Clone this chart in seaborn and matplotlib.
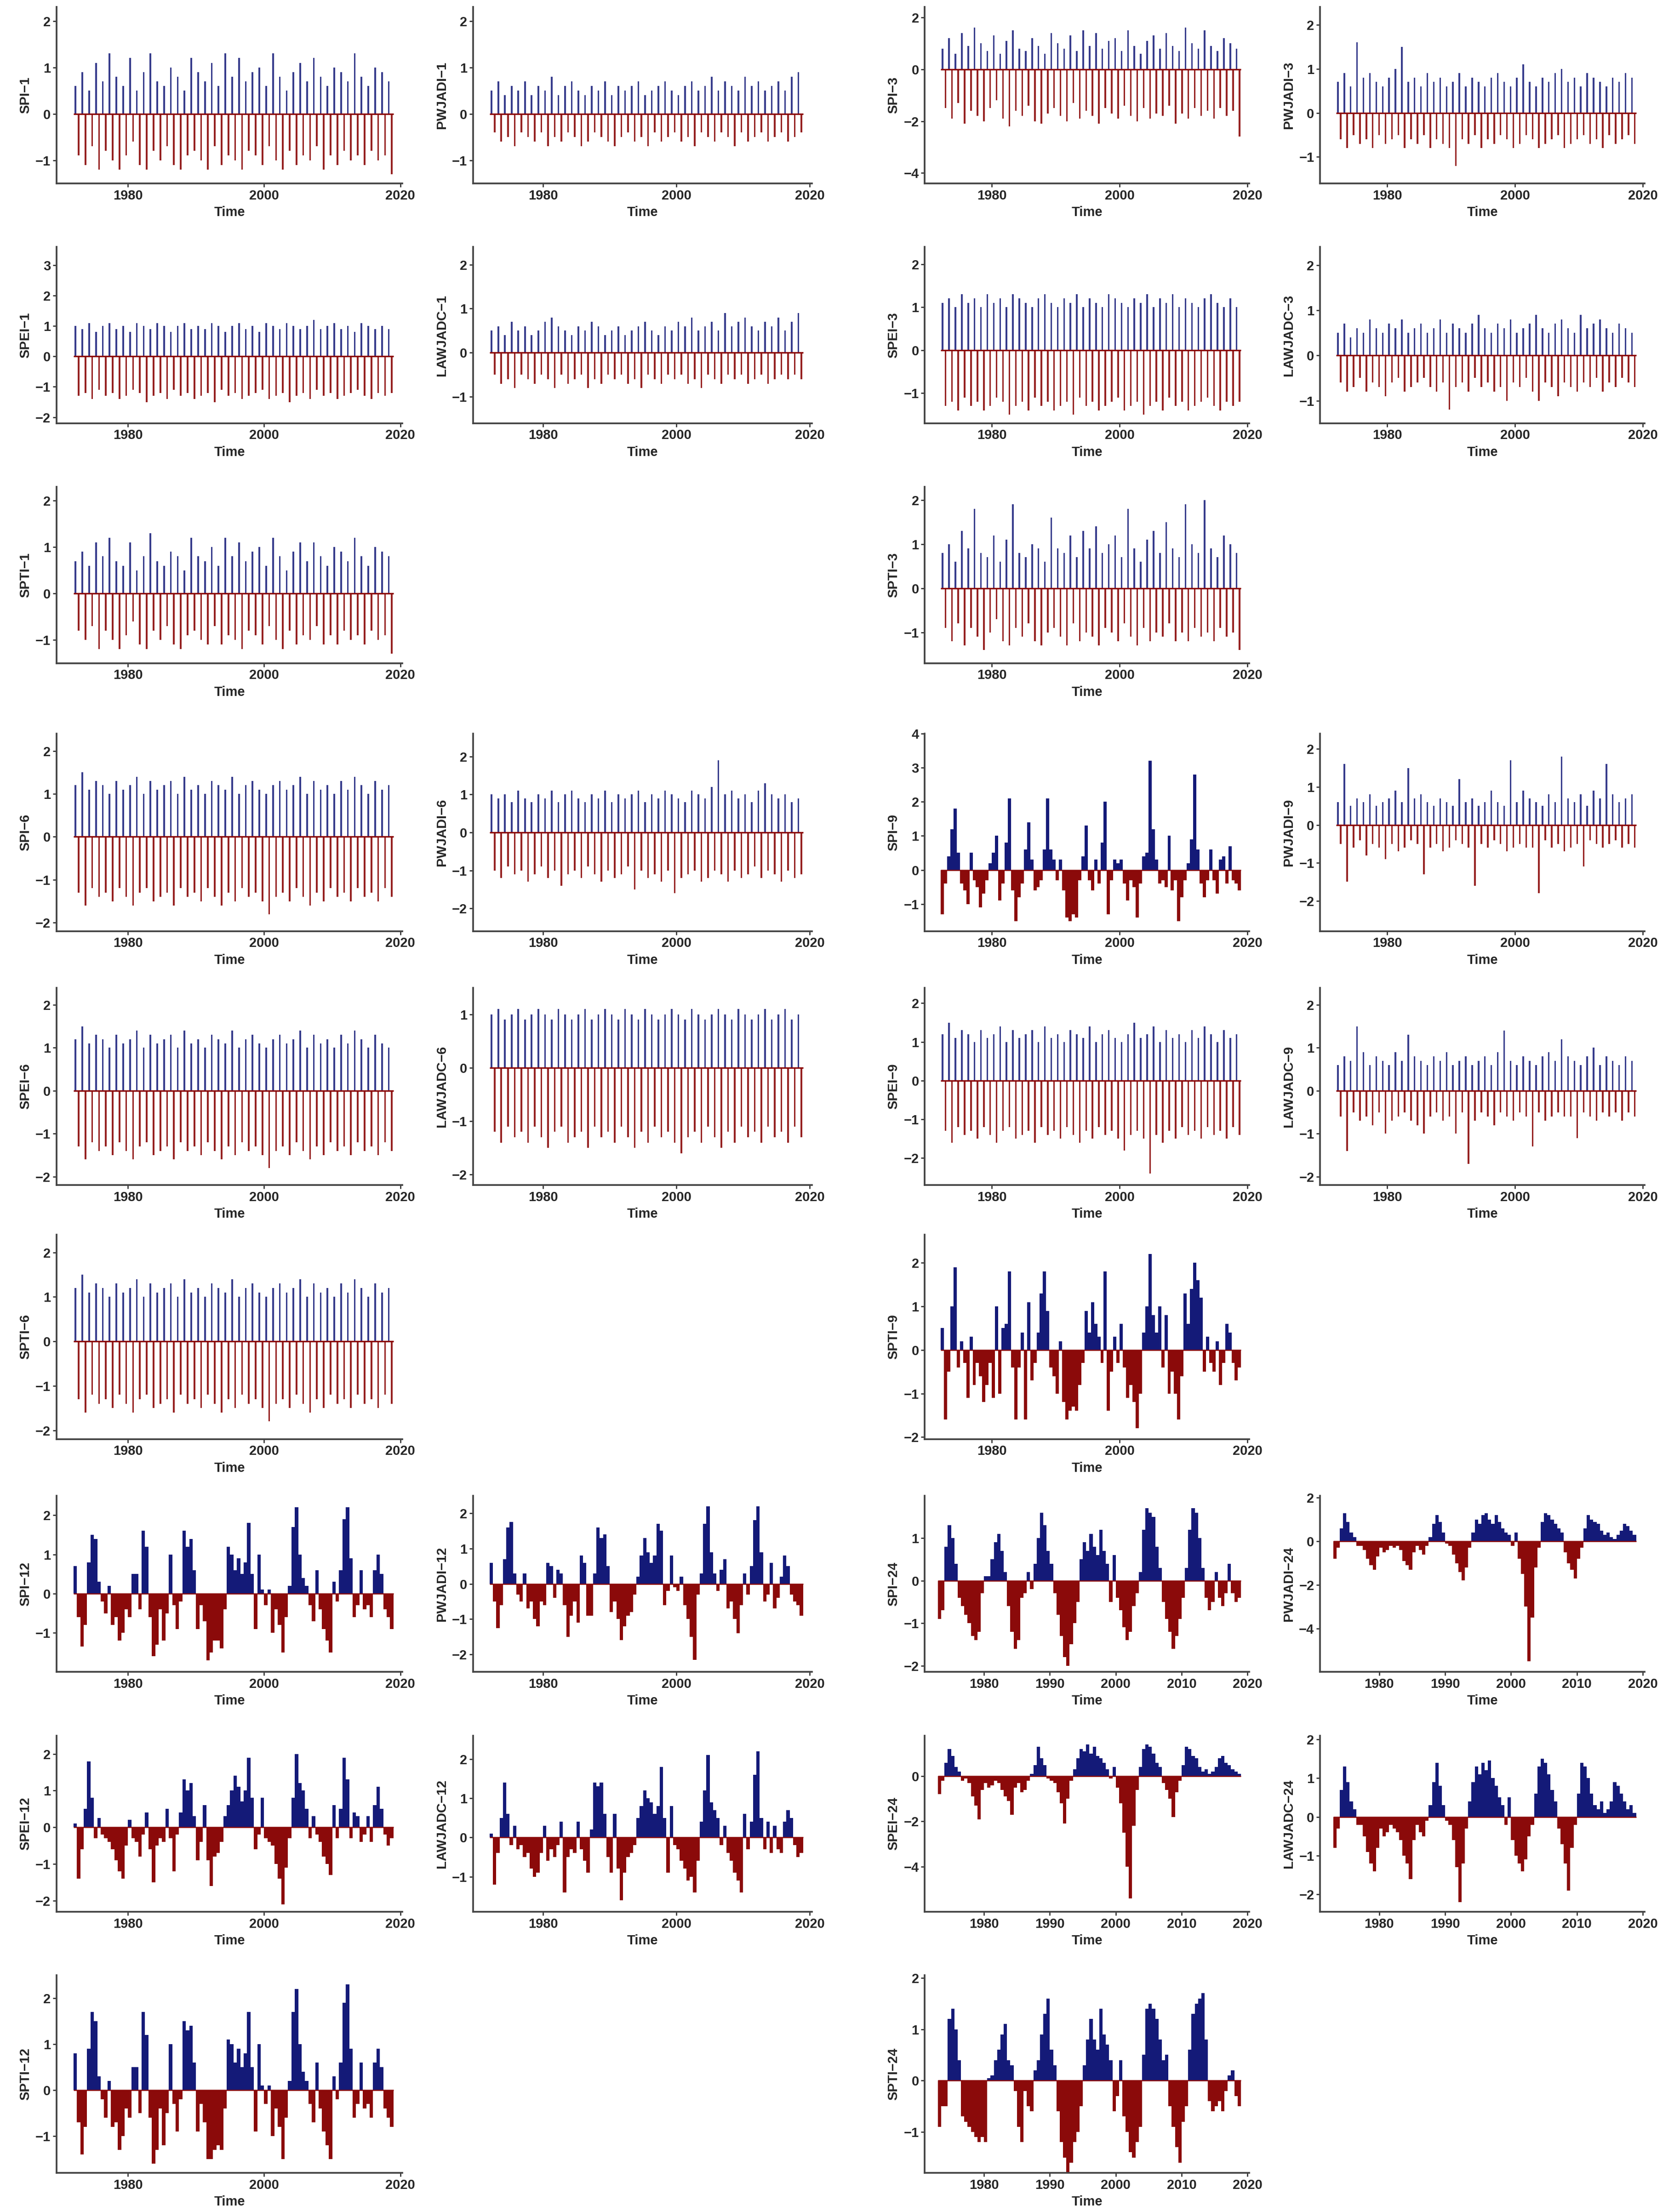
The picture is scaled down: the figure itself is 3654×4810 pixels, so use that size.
import matplotlib
matplotlib.use("Agg")
import matplotlib.pyplot as plt
import seaborn as sns
import numpy as np

sns.set_theme(style="ticks")
plt.rcParams['font.family'] = ['Liberation Sans', 'DejaVu Sans']

YEARS = list(range(1972, 2019))              # annual wet / dry peaks for short scales
HALF = [1972 + 0.5 * i for i in range(94)]   # half-year values, 1972-2018
HALF24 = [1973 + 0.5 * i for i in range(92)] # half-year values, 1973-2018

# ---------- short time scales: yearly wet peak and dry trough ----------
SPI1_WET = [0.6,0.9,0.5,1.1,0.7,1.3,0.8,0.6,1.2,0.5,0.9,1.3,0.7,0.6,1.0,0.8,0.5,1.2,0.9,0.7,1.1,0.6,1.3,0.8,1.2,0.7,0.9,1.0,0.6,1.3,0.8,0.5,0.9,1.1,0.7,1.2,0.8,0.6,1.0,0.9,0.7,1.3,0.8,0.6,1.0,0.9,0.7]
SPI1_DRY = [-0.9,-1.1,-0.7,-1.2,-0.8,-1.0,-1.2,-0.9,-0.6,-1.1,-1.2,-0.8,-1.0,-0.7,-1.1,-1.2,-0.9,-0.8,-1.0,-1.2,-0.7,-1.1,-0.9,-1.0,-1.2,-0.8,-0.9,-1.1,-0.7,-1.0,-1.2,-0.8,-1.1,-0.9,-1.0,-0.7,-1.2,-0.9,-1.1,-0.8,-1.0,-0.9,-1.1,-0.8,-1.0,-0.9,-1.3]
PWJADI1_WET = [0.5,0.7,0.4,0.6,0.5,0.7,0.4,0.6,0.5,0.8,0.4,0.6,0.7,0.5,0.4,0.6,0.5,0.7,0.4,0.6,0.5,0.6,0.7,0.4,0.5,0.6,0.7,0.5,0.4,0.6,0.7,0.5,0.6,0.8,0.5,0.7,0.6,0.5,0.8,0.6,0.7,0.5,0.6,0.7,0.5,0.8,0.9]
PWJADI1_DRY = [-0.4,-0.6,-0.5,-0.7,-0.4,-0.5,-0.6,-0.4,-0.7,-0.5,-0.6,-0.4,-0.5,-0.7,-0.6,-0.4,-0.5,-0.6,-0.7,-0.5,-0.4,-0.6,-0.5,-0.7,-0.4,-0.6,-0.5,-0.4,-0.6,-0.5,-0.7,-0.4,-0.5,-0.6,-0.4,-0.5,-0.7,-0.4,-0.6,-0.5,-0.4,-0.6,-0.5,-0.4,-0.6,-0.5,-0.4]
SPEI1_WET = [1.0,0.9,1.1,0.8,1.0,1.1,0.9,1.0,0.8,1.1,1.0,0.9,1.1,1.0,0.8,1.0,1.1,0.9,1.0,0.9,1.1,1.0,0.8,1.0,1.1,0.9,1.0,0.8,1.1,1.0,0.9,1.1,1.0,0.9,1.0,1.2,0.9,1.0,1.1,0.9,1.0,0.8,1.1,1.0,0.9,1.0,0.9]
SPEI1_DRY = [-1.3,-1.2,-1.4,-1.1,-1.3,-1.2,-1.4,-1.3,-1.1,-1.2,-1.5,-1.3,-1.2,-1.4,-1.1,-1.3,-1.2,-1.4,-1.3,-1.2,-1.5,-1.1,-1.3,-1.2,-1.4,-1.3,-1.2,-1.1,-1.4,-1.3,-1.2,-1.5,-1.3,-1.2,-1.4,-1.1,-1.3,-1.2,-1.4,-1.3,-1.2,-1.1,-1.3,-1.4,-1.2,-1.3,-1.2]
LAWJADC1_WET = [0.5,0.6,0.4,0.7,0.5,0.6,0.4,0.5,0.7,0.8,0.6,0.5,0.4,0.6,0.5,0.7,0.6,0.4,0.5,0.6,0.4,0.5,0.6,0.7,0.5,0.4,0.6,0.5,0.7,0.6,0.8,0.5,0.6,0.7,0.5,0.9,0.6,0.7,0.8,0.6,0.5,0.7,0.6,0.8,0.5,0.7,0.9]
LAWJADC1_DRY = [-0.5,-0.7,-0.6,-0.8,-0.5,-0.6,-0.7,-0.5,-0.6,-0.8,-0.5,-0.7,-0.6,-0.5,-0.8,-0.6,-0.7,-0.5,-0.6,-0.5,-0.7,-0.6,-0.8,-0.5,-0.6,-0.7,-0.5,-0.6,-0.5,-0.7,-0.6,-0.8,-0.5,-0.6,-0.7,-0.5,-0.6,-0.5,-0.7,-0.6,-0.5,-0.7,-0.6,-0.5,-0.6,-0.5,-0.6]
SPTI1_WET = [0.7,0.9,0.6,1.1,0.8,1.2,0.7,0.6,1.1,0.5,0.8,1.3,0.7,0.6,0.9,0.8,0.5,1.2,0.8,0.7,1.0,0.6,1.2,0.8,1.1,0.7,0.9,1.0,0.6,1.2,0.8,0.5,0.9,1.1,0.7,1.1,0.8,0.6,1.0,0.9,0.7,1.2,0.8,0.6,1.0,0.9,0.8]
SPTI1_DRY = [-0.8,-1.0,-0.7,-1.2,-0.8,-1.0,-1.2,-0.9,-0.6,-1.1,-1.2,-0.8,-1.0,-0.7,-1.1,-1.2,-0.9,-0.8,-1.0,-1.1,-0.7,-1.1,-0.9,-1.0,-1.2,-0.8,-0.9,-1.1,-0.7,-1.0,-1.2,-0.8,-1.1,-0.9,-1.0,-0.7,-1.1,-0.9,-1.1,-0.8,-1.0,-0.9,-1.1,-0.8,-1.0,-0.9,-1.3]
SPI3_WET = [0.8,1.2,0.6,1.4,0.9,1.6,1.0,0.7,1.3,0.6,1.1,1.5,0.8,0.7,1.2,0.9,0.6,1.4,1.0,0.8,1.3,0.7,1.5,0.9,1.4,0.8,1.1,1.2,0.7,1.5,0.9,0.6,1.1,1.3,0.8,1.4,0.9,0.7,1.6,1.0,0.8,1.5,0.9,0.7,1.2,1.0,0.8]
SPI3_DRY = [-1.5,-1.9,-1.3,-2.1,-1.6,-1.8,-2.0,-1.5,-1.2,-1.9,-2.2,-1.6,-1.8,-1.4,-2.0,-2.1,-1.7,-1.5,-1.8,-2.0,-1.3,-1.9,-1.6,-1.8,-2.1,-1.5,-1.7,-1.9,-1.4,-1.8,-2.0,-1.5,-1.9,-1.7,-1.8,-1.4,-2.1,-1.7,-1.9,-1.5,-1.8,-1.6,-1.9,-1.5,-1.8,-1.6,-2.6]
PWJADI3_WET = [0.7,0.9,0.6,1.6,0.8,0.9,0.7,0.6,0.8,1.0,1.5,0.7,0.8,0.6,0.9,0.7,0.8,0.6,0.7,0.9,0.6,0.8,0.7,0.6,0.8,0.9,0.7,0.6,0.8,1.1,0.7,0.6,0.8,0.7,0.9,1.0,0.7,0.8,0.6,0.9,0.8,0.7,0.6,0.8,0.7,0.9,0.8]
PWJADI3_DRY = [-0.6,-0.8,-0.5,-0.7,-0.6,-0.8,-0.5,-0.7,-0.6,-0.5,-0.8,-0.6,-0.7,-0.5,-0.8,-0.6,-0.7,-0.8,-1.2,-0.6,-0.7,-0.5,-0.8,-0.6,-0.7,-0.5,-0.6,-0.8,-0.7,-0.5,-0.6,-0.8,-0.7,-0.6,-0.5,-0.8,-0.7,-0.6,-0.5,-0.7,-0.6,-0.8,-0.5,-0.7,-0.6,-0.5,-0.7]
SPEI3_WET = [1.1,1.2,1.0,1.3,1.1,1.2,1.0,1.3,1.1,1.2,1.0,1.3,1.2,1.1,1.0,1.2,1.3,1.1,1.0,1.2,1.1,1.3,1.0,1.2,1.1,1.0,1.3,1.2,1.1,1.0,1.2,1.1,1.3,1.0,1.2,1.1,1.3,1.0,1.2,1.1,1.0,1.2,1.3,1.1,1.0,1.2,1.0]
SPEI3_DRY = [-1.3,-1.2,-1.4,-1.1,-1.3,-1.2,-1.4,-1.3,-1.1,-1.2,-1.5,-1.3,-1.2,-1.4,-1.1,-1.3,-1.2,-1.4,-1.3,-1.2,-1.5,-1.1,-1.3,-1.2,-1.4,-1.3,-1.2,-1.1,-1.4,-1.3,-1.2,-1.5,-1.3,-1.2,-1.4,-1.1,-1.3,-1.2,-1.4,-1.3,-1.2,-1.1,-1.3,-1.4,-1.2,-1.3,-1.2]
LAWJADC3_WET = [0.5,0.7,0.4,0.6,0.5,0.8,0.6,0.5,0.7,0.6,0.8,0.5,0.6,0.7,0.5,0.6,0.8,0.5,0.7,0.6,0.5,0.7,0.9,0.6,0.5,0.7,0.6,0.8,0.5,0.6,0.7,0.9,0.6,0.5,0.7,0.8,0.6,0.5,0.9,0.6,0.7,0.8,0.6,0.5,0.7,0.6,0.5]
LAWJADC3_DRY = [-0.6,-0.8,-0.7,-0.5,-0.8,-0.6,-0.7,-0.9,-0.6,-0.5,-0.8,-0.7,-0.6,-0.5,-0.7,-0.8,-0.6,-1.2,-0.7,-0.6,-0.8,-0.5,-0.7,-0.6,-0.8,-0.7,-1.0,-0.6,-0.7,-0.5,-0.8,-1.0,-0.6,-0.7,-0.9,-0.6,-0.7,-0.8,-0.6,-0.7,-0.5,-0.8,-0.6,-0.7,-0.5,-0.6,-0.7]
SPTI3_WET = [0.8,1.0,0.6,1.3,0.9,1.8,0.8,0.7,1.2,0.6,1.1,1.9,0.8,0.7,1.0,0.9,0.6,1.6,0.9,0.8,1.2,0.7,1.3,0.9,1.4,0.8,1.0,1.2,0.7,1.8,0.9,0.6,1.1,1.3,0.8,1.5,0.9,0.7,1.9,1.0,0.8,2.0,0.9,0.7,1.2,1.0,0.8]
SPTI3_DRY = [-0.9,-1.2,-0.8,-1.3,-0.9,-1.1,-1.4,-1.0,-0.7,-1.2,-1.3,-0.9,-1.1,-0.8,-1.2,-1.3,-1.0,-0.9,-1.1,-1.3,-0.8,-1.2,-1.0,-1.1,-1.3,-0.9,-1.0,-1.2,-0.8,-1.1,-1.3,-0.9,-1.2,-1.0,-1.1,-0.8,-1.2,-1.0,-1.2,-0.9,-1.1,-1.0,-1.2,-0.9,-1.1,-1.0,-1.4]
SPI6_WET = [1.2,1.5,1.1,1.3,1.2,1.0,1.3,1.1,1.2,1.4,1.0,1.3,1.1,1.2,1.3,1.0,1.4,1.1,1.2,1.0,1.3,1.2,1.1,1.4,1.0,1.2,1.3,1.1,1.0,1.2,1.3,1.1,1.2,1.4,1.0,1.3,1.1,1.2,1.0,1.3,1.1,1.4,1.2,1.0,1.3,1.1,1.2]
SPI6_DRY = [-1.3,-1.6,-1.2,-1.4,-1.3,-1.5,-1.2,-1.4,-1.6,-1.3,-1.2,-1.5,-1.4,-1.3,-1.6,-1.2,-1.4,-1.3,-1.5,-1.2,-1.4,-1.6,-1.3,-1.5,-1.2,-1.4,-1.3,-1.5,-1.8,-1.4,-1.3,-1.5,-1.2,-1.4,-1.6,-1.3,-1.5,-1.2,-1.4,-1.3,-1.5,-1.2,-1.4,-1.3,-1.5,-1.2,-1.4]
PWJADI6_WET = [1.0,0.9,1.0,0.8,1.1,0.9,0.8,1.0,0.9,1.1,0.8,1.0,1.1,0.9,0.8,1.0,0.9,1.1,0.8,1.0,0.9,1.0,1.1,0.8,1.0,0.9,1.1,1.0,0.9,0.8,1.1,1.0,0.9,1.2,1.9,1.0,1.1,0.9,1.0,0.8,1.1,1.3,1.0,0.9,1.0,0.8,0.9]
PWJADI6_DRY = [-1.0,-1.2,-0.9,-1.1,-1.0,-1.3,-1.1,-0.9,-1.2,-1.0,-1.4,-1.1,-1.0,-1.2,-0.9,-1.1,-1.3,-1.0,-1.2,-1.1,-0.9,-1.5,-1.0,-1.2,-1.1,-1.3,-1.0,-1.6,-1.2,-1.1,-1.0,-1.3,-1.2,-1.0,-1.1,-1.3,-1.0,-1.2,-1.1,-0.9,-1.2,-1.0,-1.1,-1.3,-1.0,-1.2,-1.1]
SPEI6_WET = [1.2,1.5,1.1,1.3,1.2,1.0,1.3,1.1,1.2,1.4,1.0,1.3,1.1,1.2,1.3,1.0,1.4,1.1,1.2,1.0,1.3,1.2,1.1,1.4,1.0,1.2,1.3,1.1,1.0,1.2,1.3,1.1,1.2,1.4,1.0,1.3,1.1,1.2,1.0,1.3,1.1,1.4,1.2,1.0,1.3,1.1,1.0]
SPEI6_DRY = [-1.3,-1.6,-1.2,-1.4,-1.3,-1.5,-1.2,-1.4,-1.6,-1.3,-1.2,-1.5,-1.4,-1.3,-1.6,-1.2,-1.4,-1.3,-1.5,-1.2,-1.4,-1.6,-1.3,-1.5,-1.2,-1.4,-1.3,-1.5,-1.8,-1.4,-1.3,-1.5,-1.2,-1.4,-1.6,-1.3,-1.5,-1.2,-1.4,-1.3,-1.5,-1.2,-1.4,-1.3,-1.5,-1.2,-1.4]
LAWJADC6_WET = [1.0,1.1,0.9,1.0,1.1,0.9,1.0,1.1,1.0,0.9,1.1,1.0,0.9,1.0,1.1,0.9,1.0,1.1,1.0,0.9,1.1,1.0,0.9,1.1,1.0,0.9,1.0,1.1,1.0,0.9,1.1,1.0,0.9,1.0,1.1,1.0,0.9,1.1,1.0,0.9,1.0,1.1,0.9,1.0,1.1,0.9,1.0]
LAWJADC6_DRY = [-1.2,-1.4,-1.1,-1.3,-1.2,-1.4,-1.1,-1.3,-1.5,-1.2,-1.1,-1.4,-1.3,-1.2,-1.5,-1.1,-1.3,-1.2,-1.4,-1.1,-1.3,-1.5,-1.2,-1.4,-1.1,-1.3,-1.2,-1.4,-1.6,-1.3,-1.2,-1.4,-1.1,-1.3,-1.5,-1.2,-1.4,-1.1,-1.3,-1.2,-1.4,-1.1,-1.3,-1.2,-1.4,-1.1,-1.3]
SPTI6_WET = [1.2,1.5,1.1,1.3,1.2,1.0,1.3,1.1,1.2,1.4,1.0,1.3,1.1,1.2,1.3,1.0,1.4,1.1,1.2,1.0,1.3,1.2,1.1,1.4,1.0,1.2,1.3,1.1,1.0,1.2,1.3,1.1,1.2,1.4,1.0,1.3,1.1,1.2,1.0,1.3,1.1,1.4,1.2,1.0,1.3,1.1,1.2]
SPTI6_DRY = [-1.3,-1.6,-1.2,-1.4,-1.3,-1.5,-1.2,-1.4,-1.6,-1.3,-1.2,-1.5,-1.4,-1.3,-1.6,-1.2,-1.4,-1.3,-1.5,-1.2,-1.4,-1.6,-1.3,-1.5,-1.2,-1.4,-1.3,-1.5,-1.8,-1.4,-1.3,-1.5,-1.2,-1.4,-1.6,-1.3,-1.5,-1.2,-1.4,-1.3,-1.5,-1.2,-1.4,-1.3,-1.5,-1.2,-1.4]
PWJADI9_WET = [0.6,1.6,0.5,0.7,0.6,0.8,0.5,0.6,0.7,0.9,0.6,1.5,0.7,0.8,0.6,0.5,0.7,0.6,0.5,1.2,0.6,0.7,0.5,0.6,0.9,0.6,0.5,1.7,0.6,0.9,0.7,0.6,0.5,0.8,0.6,1.8,0.7,0.6,0.8,0.5,0.9,0.7,1.6,0.8,0.6,0.7,0.8]
PWJADI9_DRY = [-0.5,-1.5,-0.6,-0.4,-0.8,-0.5,-0.6,-0.9,-0.5,-0.7,-0.6,-0.4,-0.5,-1.3,-0.6,-0.5,-0.7,-0.6,-0.4,-0.5,-0.6,-1.6,-0.5,-0.6,-0.4,-0.5,-0.7,-0.6,-0.5,-0.6,-0.6,-1.8,-0.4,-0.6,-0.5,-0.7,-0.6,-0.5,-1.1,-0.4,-0.5,-0.6,-0.5,-0.4,-0.6,-0.5,-0.6]
SPEI9_WET = [1.2,1.5,1.1,1.3,1.2,1.0,1.3,1.1,1.2,1.4,1.0,1.3,1.1,1.2,1.3,1.0,1.4,1.1,1.2,1.0,1.3,1.2,1.1,1.4,1.0,1.2,1.3,1.1,1.0,1.2,1.5,1.1,1.2,1.4,1.0,1.3,1.1,1.2,1.0,1.3,1.1,1.4,1.2,1.0,1.3,1.1,1.2]
SPEI9_DRY = [-1.3,-1.6,-1.2,-1.4,-1.3,-1.5,-1.2,-1.4,-1.6,-1.3,-1.2,-1.5,-1.4,-1.3,-1.6,-1.2,-1.4,-1.3,-1.5,-1.2,-1.4,-1.6,-1.3,-1.5,-1.2,-1.4,-1.3,-1.5,-1.8,-1.4,-1.3,-1.5,-2.4,-1.4,-1.6,-1.3,-1.5,-1.2,-1.4,-1.3,-1.5,-1.2,-1.4,-1.3,-1.5,-1.2,-1.4]
LAWJADC9_WET = [0.6,0.8,0.7,1.5,0.9,0.6,0.8,0.7,0.6,0.9,0.7,1.3,0.8,0.7,0.6,0.8,0.7,0.9,0.6,0.7,0.8,0.6,0.7,0.8,0.6,0.9,1.4,0.7,0.6,0.8,0.7,0.6,0.8,0.9,0.7,1.2,0.8,0.7,0.6,0.8,1.0,0.6,0.8,0.7,0.6,0.8,0.7]
LAWJADC9_DRY = [-0.6,-1.4,-0.5,-0.7,-0.6,-0.8,-0.5,-1.0,-0.7,-0.6,-0.5,-0.7,-0.8,-1.0,-0.6,-0.5,-0.7,-0.6,-1.0,-0.5,-1.7,-0.7,-0.5,-0.6,-0.8,-0.5,-0.6,-0.7,-0.5,-0.6,-1.3,-0.5,-0.7,-0.6,-0.5,-0.6,-0.6,-1.1,-0.5,-0.6,-0.7,-0.5,-0.6,-0.5,-0.7,-0.5,-0.6]

# ---------- long time scales: half-year values (first half, second half of each year) ----------
SPI9 = [-1.3,-0.4, 0.4,1.2, 1.8,0.5, -0.4,-0.6, -1.0,0.5, -0.3,-0.5, -1.1,-0.7, -0.3,0.2, 0.5,1.0, -0.9,-0.4,
        0.8,2.1, -0.6,-1.5, -0.8,-0.4, 0.6,1.4, 0.3,-0.6, -0.5,-0.3, 0.6,2.1, 0.6,0.3, -0.3,0.3, -0.6,-1.4,
        -1.5,-1.3, -1.4,-0.3, 0.4,1.3, -0.3,-0.6, 0.3,-0.4, 0.8,2.0, -1.3,-0.3, 0.3,0.2, 0.3,-0.4, -0.9,-0.3,
        -0.5,-1.4, -0.4,0.4, 0.5,3.2, 1.2,0.3, -0.4,-0.3, -0.5,1.0, -0.6,-0.3, -1.5,-0.8, -0.3,0.2, 0.9,2.8,
        0.6,-0.4, -0.8,-0.3, 0.6,-0.3, -0.7,0.3, 0.4,-0.4, 0.7,-0.3, -0.4,-0.6]
SPTI9 = [0.5,-1.6, -0.5,1.0, 1.9,-0.4, 0.2,-0.3, -1.1,0.3, -0.8,-0.3, -0.6,-1.2, -0.8,-0.3, -1.1,1.0, -1.0,0.5,
         0.6,1.8, -0.4,-1.6, -0.4,0.4, -1.6,1.1, -0.7,-0.3, 0.4,1.3, 1.8,0.9, -0.4,-0.6, -1.0,0.2, -1.2,-1.6,
         -1.4,-1.3, -1.4,-0.8, -0.3,0.9, 0.4,1.1, 0.6,0.3, -0.3,1.8, -1.4,-0.5, 0.3,-0.3, 0.6,-0.4, -1.1,-0.8,
         -1.2,-1.8, -1.0,0.4, 1.0,2.2, 0.8,0.4, 1.0,-0.4, 0.8,-1.0, -0.5,-1.0, -1.6,-0.6, 1.3,0.6, 1.4,2.0,
         1.6,1.2, -0.5,0.3, -0.3,-0.5, 0.2,-0.8, -0.3,0.6, 0.4,-0.3, -0.7,-0.4]
SPI12 = [0.7,-0.6, -1.35,-0.8, 0.8,1.5, 1.4,0.3, -0.2,-0.5, 0.2,-0.8, -0.6,-1.2, -1.0,-0.4, -0.6,0.5, 0.5,-0.4,
         1.6,1.2, -0.6,-1.6, -1.3,-0.4, -1.2,-0.5, 1.0,-0.3, -0.9,-0.2, 1.6,1.2, 1.4,0.6, -0.9,-0.3, -0.7,-1.7,
         -1.5,-1.2, -1.2,-1.4, -0.4,1.2, 1.0,0.6, 0.9,0.5, 0.8,1.8, 0.5,-0.9, 1.0,0.1, -0.3,0.1, -1.0,-0.4,
         -0.8,-1.5, -0.6,0.2, 1.7,2.2, 1.0,0.4, 0.2,-0.3, -0.7,0.6, -0.4,-0.9, -1.2,-1.5, 0.3,-0.2, 0.6,1.9,
         2.2,0.9, -0.6,-0.3, 0.6,-0.4, -0.3,-0.6, 0.6,1.0, 0.5,-0.4, -0.6,-0.9]
PWJADI12 = [0.6,-0.5, -1.25,-0.6, 0.7,1.6, 1.75,0.3, -0.3,-0.5, 0.3,-0.7, -0.5,-1.0, -1.2,-0.5, -0.6,0.6, 0.5,-0.4,
            0.4,0.3, -0.6,-1.5, -0.9,-0.5, -1.1,0.8, 0.6,-0.9, -0.9,0.3, 1.6,1.3, 1.4,0.5, -0.8,-0.5, -1.0,-1.6,
            -1.2,-0.9, -0.8,-0.3, 0.2,0.8, 1.3,0.9, 0.6,0.8, 1.7,1.5, -0.6,-0.2, 0.8,-0.1, -0.2,0.2, -0.6,-1.0,
            -1.5,-2.15, -0.3,0.3, 1.7,2.2, 0.9,0.3, -0.2,0.4, 0.7,-0.7, -0.5,-1.0, -1.4,-0.6, 0.3,-0.3, 0.5,1.8,
            2.2,0.9, -0.5,-0.3, 0.6,-0.7, -0.4,0.2, 0.8,0.5, -0.3,-0.5, -0.6,-0.9]
SPEI12 = [0.1,-1.4, -0.6,0.5, 1.8,0.8, -0.3,0.25, -0.2,-0.3, -0.4,-0.6, -0.9,-1.2, -1.4,-0.5, 0.2,-0.3, -0.4,-0.8,
          -0.2,0.4, -0.6,-1.5, -0.5,-0.3, -0.4,0.5, -0.3,-1.2, -0.2,0.4, 1.3,1.0, 1.2,0.3, -0.9,-0.4, 0.6,-0.9,
          -1.6,-0.8, -0.7,-0.4, 0.3,0.6, 1.0,1.4, 1.1,0.7, 1.0,1.9, 0.8,-0.6, -0.2,0.8, -0.3,-0.4, -0.5,-1.0,
          -1.4,-2.1, -1.1,-0.3, 0.8,2.0, 1.2,1.0, 0.5,-0.3, 0.3,-0.2, -0.4,-0.8, -1.0,-1.3, 0.6,-0.3, 0.5,1.9,
          1.3,-0.3, 0.4,0.3, -0.4,-0.2, 0.3,-0.4, 0.6,1.1, 0.5,-0.2, -0.5,-0.3]
LAWJADC12 = [0.1,-1.2, -0.4,0.5, 1.4,0.6, -0.2,0.3, -0.3,-0.2, -0.5,-0.4, -0.8,-1.0, -0.9,-0.4, 0.3,-0.6, -0.3,-0.5,
             -0.2,0.4, -1.4,-0.5, -0.3,-0.4, 0.4,-0.3, -0.6,-0.9, 0.2,1.4, 1.3,1.4, 0.6,-0.5, -0.9,0.6, -0.8,-1.6,
             -0.9,-0.5, -0.4,-0.2, 0.5,0.8, 1.2,1.0, 0.9,0.6, 0.8,1.8, 0.5,-0.9, 0.8,-0.2, -0.3,-0.6, -0.8,-1.1,
             -1.0,-1.4, -0.6,0.4, 1.2,2.1, 0.9,0.7, 0.5,-0.2, 0.3,-0.4, -0.6,-0.9, -1.1,-1.4, 0.6,-0.3, 0.4,1.6,
             2.2,0.5, -0.3,0.4, -0.4,0.3, -0.3,-0.4, 0.4,0.7, 0.5,-0.2, -0.5,-0.4]
SPTI12 = [0.8,-0.7, -1.4,-0.8, 0.9,1.7, 1.5,0.3, -0.2,-0.6, 0.2,-0.8, -0.7,-1.3, -1.0,-0.4, -0.6,0.5, 0.5,-0.5,
          1.7,1.2, -0.6,-1.6, -1.3,-0.4, -1.2,-0.5, 1.0,-0.3, -0.9,-0.2, 1.5,1.3, 1.4,0.6, -0.9,-0.3, -0.7,-1.5,
          -1.5,-1.3, -1.2,-1.3, -0.4,1.1, 1.0,0.6, 0.9,0.5, 0.8,1.7, 0.5,-0.9, 1.0,0.1, -0.3,0.1, -1.0,-0.4,
          -0.8,-1.5, -0.6,0.2, 1.7,2.2, 1.0,0.4, 0.2,-0.3, -0.7,0.6, -0.4,-0.9, -1.2,-1.5, 0.3,-0.2, 0.6,1.9,
          2.3,0.9, -0.6,-0.3, 0.6,-0.4, -0.3,-0.6, 0.6,0.9, 0.5,-0.4, -0.6,-0.8]
SPI24 = [-0.9,-0.7, 0.8,1.3, 1.0,0.4, -0.4,-0.6, -0.8,-1.0, -1.3,-1.4, -1.2,-0.3, 0.1,0.1, 0.5,0.9, 1.1,0.7,
         0.2,-0.6, -1.2,-1.6, -1.4,-0.4, -0.3,0.2, -0.2,0.4, 1.0,1.6, 1.3,0.7, 0.4,-0.3, -0.8,-1.3, -1.8,-2.0,
         -1.5,-1.0, -0.5,0.5, 0.9,0.7, 1.1,0.8, 0.6,1.2, 0.7,0.4, -0.5,0.6, -0.4,-0.7, -1.1,-1.4, -1.2,-0.6,
         -0.3,0.2, 1.2,1.7, 1.6,1.5, 0.8,0.3, -0.5,-0.9, -1.2,-1.6, -1.3,-0.9, -0.4,0.3, 1.2,1.7, 1.6,1.0,
         0.3,-0.4, -0.7,-0.5, 0.2,-0.4, -0.6,-0.3, 0.4,-0.3, -0.5,-0.4]
PWJADI24 = [-0.8,-0.3, 0.6,1.3, 0.9,0.4, 0.2,-0.2, -0.2,-0.4, -0.8,-1.1, -1.3,-0.7, -0.3,-0.5, -0.4,-0.2, -0.3,-0.2,
            -0.4,-0.9, -1.1,-1.3, -0.5,-0.2, -0.4,-0.6, -0.2,0.2, 0.8,1.2, 0.9,0.4, -0.1,-0.2, -0.6,-1.0, -1.4,-1.8,
            -1.2,-0.3, 0.4,1.0, 0.8,1.2, 1.3,1.0, 0.8,1.2, 0.9,0.6, 0.4,0.3, -0.2,0.4, -0.8,-1.5, -3.0,-5.5,
            -3.5,-1.2, -0.3,0.9, 1.3,1.2, 1.0,0.8, 0.6,0.4, -0.5,-1.0, -1.3,-1.7, -0.8,-0.3, 0.6,1.2, 1.0,0.9,
            0.8,0.5, 0.3,0.4, 0.2,0.1, 0.3,0.5, 0.8,0.7, 0.5,0.3]
SPEI24 = [-0.8,-0.2, 0.6,1.2, 0.9,0.4, 0.2,-0.2, -0.1,-0.3, -0.9,-1.3, -1.9,-0.6, -0.3,-0.5, -0.4,-0.2, -0.3,-0.6,
          -0.9,-1.1, -1.7,-0.5, -0.3,-0.7, -0.6,-0.2, 0.1,0.5, 1.3,0.8, 0.5,-0.1, -0.2,-0.3, -0.7,-1.2, -2.1,-1.0,
          -0.2,0.3, 0.8,1.2, 1.1,1.4, 1.0,1.3, 0.9,0.8, 0.6,0.3, -0.1,0.4, -0.5,-1.2, -2.5,-4.0, -5.4,-2.2,
          -0.6,0.4, 1.2,1.4, 1.3,1.0, 0.6,0.4, -0.3,-0.6, -1.0,-1.8, -0.7,-0.2, 0.5,1.3, 1.2,0.9, 0.8,0.4,
          0.2,0.3, 0.1,0.2, 0.4,0.8, 0.9,0.6, 0.5,0.3, 0.2,0.1]
LAWJADC24 = [-0.8,-0.3, 0.7,1.3, 0.9,0.4, 0.2,-0.2, -0.2,-0.5, -0.9,-1.2, -1.4,-0.8, -0.3,-0.5, -0.4,-0.2, -0.3,-0.4,
             -0.6,-1.0, -1.2,-1.6, -0.6,-0.2, -0.4,-0.5, -0.1,0.3, 0.9,1.4, 0.8,0.3, -0.1,-0.2, -0.6,-1.3, -2.2,-1.2,
             -0.3,0.4, 0.9,1.3, 1.1,1.4, 1.2,1.45, 1.0,0.8, 0.5,0.3, -0.2,0.5, -0.6,-1.0, -1.2,-1.4, -1.1,-0.5,
             -0.2,0.6, 1.3,1.5, 1.4,1.1, 0.7,0.4, -0.3,-0.7, -1.2,-1.9, -0.8,-0.2, 0.6,1.4, 1.3,1.0, 0.6,0.3,
             0.2,0.4, 0.1,0.2, 0.4,0.9, 0.8,0.6, 0.4,0.2, 0.3,0.1]
SPTI24 = [-0.9,-0.5, -0.5,1.2, 1.4,1.0, 0.4,-0.7, -0.8,-0.9, -1.0,-1.1, -1.2,-1.1, -1.2,0.05, 0.1,0.4, 0.6,0.9,
          1.1,0.4, 0.3,-0.2, -0.9,-1.2, -0.2,-0.5, -0.6,0.2, 0.4,0.9, 1.3,1.6, 0.6,0.3, -0.6,-1.2, -1.5,-1.8,
          -1.6,-1.2, -1.0,-0.5, 0.3,0.8, 1.2,0.8, 0.6,1.4, 0.9,0.7, 0.4,-0.6, -0.3,0.4, -0.7,-1.0, -1.4,-1.5,
          -1.2,-0.9, 0.5,1.4, 1.5,1.4, 1.2,0.8, 0.4,0.5, -0.5,-0.9, -1.3,-1.6, -0.8,-0.5, 0.6,1.3, 1.5,1.6,
          1.7,0.8, -0.4,-0.6, -0.5,-0.4, -0.6,-0.2, 0.1,0.2, -0.3,-0.5]

NAVY = "#141a78"
RED = "#8b0a0a"

W, H = 3654, 4810
fig = plt.figure(figsize=(W / 300, H / 300), dpi=300)

COLS = [(40, 285), (335, 575), (655, 885), (935, 1165)]   # px in 1190-wide preview
ROWS = [(5, 130), (175, 300), (345, 470), (520, 660), (700, 840), (875, 1020),
        (1060, 1185), (1230, 1355), (1400, 1540)]
SX, SY = 1190.0, 1567.0

def add_ax(r, c):
    x0, x1 = COLS[c]; y0, y1 = ROWS[r]
    return fig.add_axes([x0 / SX, 1 - y1 / SY, (x1 - x0) / SX, (y1 - y0) / SY])

def style(ax, label, ylim, yticks, xlim, xticks):
    ax.set_xlim(*xlim); ax.set_ylim(*ylim)
    ax.set_xticks(xticks); ax.set_yticks(yticks)
    ax.set_yticklabels([f"{t:g}".replace("-", "\u2212") for t in yticks])
    ax.tick_params(labelsize=7, length=2, width=0.6, pad=1)
    for lab in ax.get_xticklabels() + ax.get_yticklabels():
        lab.set_fontweight("bold")
    ax.set_ylabel(label.replace("-", "\u2212"), fontsize=7, fontweight="bold", labelpad=2)
    ax.set_xlabel("Time", fontsize=7, fontweight="bold", labelpad=2)
    sns.despine(ax=ax)
    for s in ("left", "bottom"):
        ax.spines[s].set_linewidth(0.9); ax.spines[s].set_color("#444444")
    ax.grid(False)

XL = (1969.5, 2020.3)

def spiky(r, c, label, wet, dry, ylim, yticks):
    ax = add_ax(r, c)
    x = np.array(YEARS, dtype=float)
    ax.bar(x + 0.3, wet, width=0.25, color=NAVY, alpha=0.85, linewidth=0)
    ax.bar(x + 0.75, dry, width=0.25, color=RED, alpha=0.9, linewidth=0)
    ax.hlines(0, 1972, 2019, color=RED, lw=0.8)
    style(ax, label, ylim, yticks, XL, [1980, 2000, 2020])

def smooth(r, c, label, vals, ylim, yticks, xs=HALF, xlim=XL, xticks=(1980, 2000, 2020)):
    ax = add_ax(r, c)
    v = np.array(vals)
    cols = [NAVY if t >= 0 else RED for t in v]
    ax.bar(np.array(xs) + 0.25, v, width=0.5, color=cols, linewidth=0)
    ax.hlines(0, xs[0], xs[-1] + 0.5, color=RED, lw=0.6)
    style(ax, label, ylim, yticks, xlim, list(xticks))

# Block 1/3
spiky(0, 0, "SPI-1", SPI1_WET, SPI1_DRY, (-1.5, 2.3), [-1, 0, 1, 2])
spiky(0, 1, "PWJADI-1", PWJADI1_WET, PWJADI1_DRY, (-1.5, 2.3), [-1, 0, 1, 2])
spiky(0, 2, "SPI-3", SPI3_WET, SPI3_DRY, (-4.4, 2.4), [-4, -2, 0, 2])
spiky(0, 3, "PWJADI-3", PWJADI3_WET, PWJADI3_DRY, (-1.6, 2.4), [-1, 0, 1, 2])
spiky(1, 0, "SPEI-1", SPEI1_WET, SPEI1_DRY, (-2.2, 3.6), [-2, -1, 0, 1, 2, 3])
spiky(1, 1, "LAWJADC-1", LAWJADC1_WET, LAWJADC1_DRY, (-1.6, 2.4), [-1, 0, 1, 2])
spiky(1, 2, "SPEI-3", SPEI3_WET, SPEI3_DRY, (-1.7, 2.4), [-1, 0, 1, 2])
spiky(1, 3, "LAWJADC-3", LAWJADC3_WET, LAWJADC3_DRY, (-1.5, 2.4), [-1, 0, 1, 2])
spiky(2, 0, "SPTI-1", SPTI1_WET, SPTI1_DRY, (-1.5, 2.3), [-1, 0, 1, 2])
spiky(2, 2, "SPTI-3", SPTI3_WET, SPTI3_DRY, (-1.7, 2.3), [-1, 0, 1, 2])
# Block 6/9
spiky(3, 0, "SPI-6", SPI6_WET, SPI6_DRY, (-2.2, 2.4), [-2, -1, 0, 1, 2])
spiky(3, 1, "PWJADI-6", PWJADI6_WET, PWJADI6_DRY, (-2.6, 2.6), [-2, -1, 0, 1, 2])
smooth(3, 2, "SPI-9", SPI9, (-1.8, 3.9), [-1, 0, 1, 2, 3, 4])
spiky(3, 3, "PWJADI-9", PWJADI9_WET, PWJADI9_DRY, (-2.8, 2.4), [-2, -1, 0, 1, 2])
spiky(4, 0, "SPEI-6", SPEI6_WET, SPEI6_DRY, (-2.2, 2.4), [-2, -1, 0, 1, 2])
spiky(4, 1, "LAWJADC-6", LAWJADC6_WET, LAWJADC6_DRY, (-2.2, 1.5), [-2, -1, 0, 1])
spiky(4, 2, "SPEI-9", SPEI9_WET, SPEI9_DRY, (-2.7, 2.4), [-2, -1, 0, 1, 2])
spiky(4, 3, "LAWJADC-9", LAWJADC9_WET, LAWJADC9_DRY, (-2.2, 2.4), [-2, -1, 0, 1, 2])
spiky(5, 0, "SPTI-6", SPTI6_WET, SPTI6_DRY, (-2.2, 2.4), [-2, -1, 0, 1, 2])
smooth(5, 2, "SPTI-9", SPTI9, (-2.05, 2.65), [-2, -1, 0, 1, 2])
# Block 12/24
X24 = dict(xs=HALF24, xlim=(1971, 2020.3), xticks=(1980, 1990, 2000, 2010, 2020))
smooth(6, 0, "SPI-12", SPI12, (-2.0, 2.5), [-1, 0, 1, 2])
smooth(6, 1, "PWJADI-12", PWJADI12, (-2.5, 2.5), [-2, -1, 0, 1, 2])
smooth(6, 2, "SPI-24", SPI24, (-2.15, 2.0), [-2, -1, 0, 1], **X24)
smooth(6, 3, "PWJADI-24", PWJADI24, (-6.0, 2.1), [-4, -2, 0, 2], **X24)
smooth(7, 0, "SPEI-12", SPEI12, (-2.3, 2.5), [-2, -1, 0, 1, 2])
smooth(7, 1, "LAWJADC-12", LAWJADC12, (-1.9, 2.6), [-1, 0, 1, 2])
smooth(7, 2, "SPEI-24", SPEI24, (-6.0, 1.8), [-4, -2, 0], **X24)
smooth(7, 3, "LAWJADC-24", LAWJADC24, (-2.45, 2.1), [-2, -1, 0, 1, 2], **X24)
smooth(8, 0, "SPTI-12", SPTI12, (-1.8, 2.5), [-1, 0, 1, 2])
smooth(8, 2, "SPTI-24", SPTI24, (-1.8, 2.05), [-1, 0, 1, 2], **X24)

fig.savefig("out.png", dpi=300, facecolor="white")
